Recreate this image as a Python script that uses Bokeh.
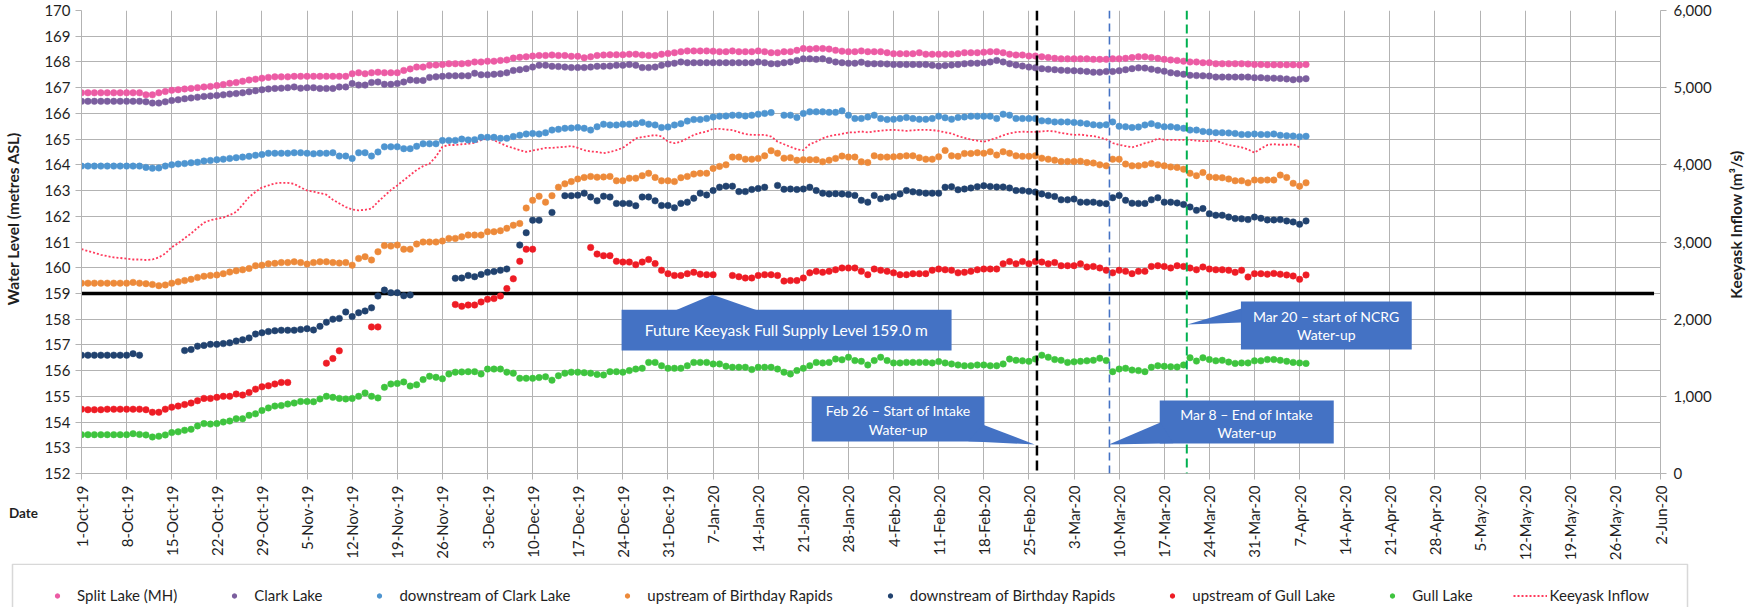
import math
import numpy as np
import pandas as pd
from bokeh.plotting import figure
from bokeh.layouts import row, column
from bokeh.models import (Range1d, LinearAxis, FixedTicker, NumeralTickFormatter, Span, Label,
                          BoxAnnotation, PolyAnnotation, Legend, LegendItem, ColumnDataSource,
                          CustomJSTickFormatter)
from bokeh.embed import file_html
from bokeh.resources import INLINE

NA = float("nan")

start_date = "2019-10-01"

split_lake = [
166.80,166.80,166.80,166.80,166.80,166.80,166.80,166.80,166.80,166.80,
166.72,166.72,166.80,166.85,166.90,166.92,166.95,166.97,167.00,167.03,
167.05,167.08,167.12,167.17,167.20,167.25,167.30,167.33,167.37,167.40,
167.42,167.42,167.42,167.44,167.44,167.44,167.44,167.44,167.44,167.44,
167.44,167.44,167.54,167.58,167.54,167.58,167.60,167.58,167.58,167.58,
167.67,167.73,167.80,167.80,167.87,167.88,167.90,167.93,167.93,167.93,
167.95,168.00,168.00,168.03,168.03,168.06,168.08,168.15,168.18,168.20,
168.23,168.25,168.25,168.27,168.25,168.25,168.22,168.22,168.16,168.20,
168.25,168.27,168.28,168.28,168.28,168.30,168.30,168.27,168.25,168.25,
168.30,168.33,168.36,168.40,168.43,168.43,168.43,168.43,168.42,168.40,
168.40,168.43,168.40,168.40,168.40,168.43,168.40,168.36,168.36,168.40,
168.40,168.45,168.52,168.50,168.52,168.52,168.50,168.45,168.42,168.40,
168.40,168.43,168.40,168.40,168.40,168.36,168.32,168.32,168.32,168.32,
168.36,168.30,168.30,168.30,168.30,168.30,168.32,168.36,168.36,168.36,
168.38,168.40,168.40,168.36,168.30,168.27,168.27,168.23,168.23,168.20,
168.17,168.14,168.12,168.12,168.12,168.12,168.12,168.10,168.10,168.10,
168.12,168.12,168.14,168.17,168.20,168.20,168.17,168.14,168.10,168.08,
168.06,168.03,168.00,168.00,167.97,167.97,167.93,167.93,167.93,167.93,
167.93,167.92,167.90,167.90,167.89,167.89,167.89,167.89,167.89,167.88,167.90]

clark_lake = [
166.47,166.47,166.47,166.47,166.47,166.47,166.47,166.47,166.47,166.47,
166.45,166.40,166.40,166.45,166.50,166.53,166.57,166.60,166.63,166.66,
166.68,166.70,166.72,166.75,166.77,166.80,166.84,166.88,166.92,166.95,
166.97,166.98,167.00,167.03,166.98,167.00,167.00,166.97,166.97,166.97,
167.03,167.03,167.16,167.10,167.10,167.20,167.22,167.13,167.13,167.16,
167.22,167.30,167.28,167.28,167.40,167.42,167.44,167.46,167.46,167.46,
167.46,167.56,167.50,167.50,167.52,167.54,167.58,167.67,167.70,167.74,
167.80,167.87,167.87,167.83,167.82,167.80,167.78,167.78,167.78,167.80,
167.83,167.83,167.84,167.87,167.87,167.90,167.87,167.78,167.78,167.80,
167.87,167.92,167.95,168.00,167.97,167.97,167.97,167.97,167.97,167.97,
167.97,167.97,167.97,167.97,167.97,168.00,167.97,167.93,167.93,167.97,
168.00,168.06,168.12,168.12,168.10,168.12,168.06,168.00,167.97,167.95,
167.95,167.99,167.93,167.93,167.93,167.92,167.90,167.90,167.90,167.90,
167.90,167.90,167.87,167.84,167.86,167.88,167.90,167.93,167.95,167.95,
167.97,168.00,168.06,168.00,167.93,167.88,167.84,167.80,167.77,167.74,
167.72,167.70,167.68,167.67,167.66,167.65,167.63,167.60,167.60,167.63,
167.63,167.66,167.70,167.74,167.77,167.76,167.72,167.68,167.64,167.58,
167.55,167.52,167.48,167.47,167.46,167.45,167.41,167.41,167.41,167.41,
167.41,167.41,167.39,167.39,167.37,167.37,167.36,167.34,167.31,167.33,167.35]

downstream_clark = [
163.95,163.95,163.95,163.95,163.95,163.95,163.95,163.95,163.95,163.95,
163.90,163.87,163.88,163.95,164.00,164.03,164.05,164.08,164.10,164.15,
164.17,164.20,164.22,164.25,164.28,164.30,164.33,164.37,164.40,164.45,
164.45,164.45,164.45,164.47,164.47,164.45,164.43,164.45,164.45,164.47,
164.34,164.34,164.25,164.47,164.47,164.34,164.50,164.70,164.70,164.70,
164.63,164.63,164.72,164.82,164.82,164.82,164.95,164.95,164.95,165.00,
164.97,164.98,165.07,165.07,165.07,165.03,165.03,165.10,165.15,165.20,
165.22,165.20,165.25,165.35,165.38,165.42,165.43,165.45,165.42,165.35,
165.48,165.58,165.55,165.55,165.58,165.58,165.60,165.65,165.58,165.55,
165.45,165.47,165.55,165.60,165.70,165.76,165.76,165.80,165.86,165.89,
165.90,165.93,165.93,165.90,165.93,165.97,166.00,166.03,NA,165.93,
165.93,165.84,166.00,166.06,166.06,166.06,166.04,166.04,166.10,165.93,
165.80,165.80,165.86,165.93,165.80,165.76,165.77,165.80,165.84,165.80,
165.77,165.77,165.80,165.89,165.83,165.77,165.84,165.86,165.89,165.89,
165.89,165.89,165.80,165.97,165.93,165.80,165.80,165.80,165.80,165.71,
165.70,165.67,165.67,165.67,165.65,165.63,165.60,165.56,165.54,165.56,
165.67,165.50,165.48,165.45,165.47,165.55,165.60,165.53,165.48,165.48,
165.45,165.42,165.35,165.35,165.30,165.28,165.25,165.25,165.24,165.22,
165.18,165.18,165.20,165.18,165.18,165.20,165.15,165.13,165.12,165.09,165.11]

upstream_birthday = [
159.40,159.40,159.40,159.40,159.40,159.40,159.40,159.40,159.43,159.40,
159.38,159.35,159.30,159.33,159.40,159.45,159.50,159.55,159.62,159.67,
159.70,159.72,159.77,159.83,159.88,159.92,159.97,160.08,160.10,160.15,
160.17,160.20,160.20,160.23,160.20,160.14,160.20,160.23,160.23,160.20,
160.18,160.20,160.10,160.36,160.43,160.30,160.62,160.86,160.84,160.88,
160.72,160.72,160.92,161.00,161.00,161.00,161.04,161.14,161.14,161.20,
161.27,161.27,161.27,161.40,161.40,161.44,161.53,161.65,161.72,162.32,
162.62,162.78,162.55,162.80,163.13,163.26,163.35,163.45,163.51,163.55,
163.52,163.53,163.55,163.38,163.38,163.48,163.48,163.58,163.67,163.51,
163.38,163.38,163.35,163.50,163.55,163.64,163.67,163.67,163.86,163.94,
164.00,164.30,164.30,164.22,164.22,164.25,164.35,164.55,164.45,164.26,
164.28,164.18,164.20,164.20,164.20,164.12,164.18,164.25,164.34,164.30,
164.30,164.12,164.09,164.35,164.30,164.30,164.31,164.33,164.35,164.35,
164.28,164.22,164.22,164.31,164.56,164.35,164.33,164.44,164.44,164.47,
164.45,164.51,164.38,164.51,164.45,164.35,164.33,164.33,164.35,164.26,
164.22,164.18,164.13,164.13,164.13,164.14,164.09,164.07,164.00,163.96,
164.22,164.22,164.03,163.96,163.96,164.00,164.05,164.00,163.96,163.92,
163.90,163.83,163.67,163.58,163.70,163.53,163.51,163.50,163.45,163.38,
163.38,163.30,163.41,163.40,163.41,163.41,163.60,163.51,163.28,163.17,163.30]

downstream_birthday = [
156.60,156.60,156.60,156.60,156.60,156.60,156.60,156.60,156.66,156.60,
NA,NA,NA,NA,NA,NA,156.78,156.82,156.95,156.98,
157.02,157.02,157.05,157.08,157.15,157.20,157.27,157.42,157.47,157.52,
157.55,157.57,157.57,157.57,157.60,157.63,157.58,157.72,157.88,158.00,
158.03,158.28,158.10,158.25,158.32,158.44,158.90,159.13,159.03,159.03,
158.91,158.94,NA,NA,NA,NA,NA,NA,159.59,159.60,
159.70,159.65,159.74,159.82,159.85,159.90,159.95,NA,160.88,161.36,
161.85,161.85,NA,162.15,NA,162.80,162.80,162.82,162.90,162.75,
162.60,162.78,162.75,162.50,162.50,162.50,162.41,162.75,162.75,162.60,
162.42,162.42,162.33,162.50,162.55,162.70,162.90,162.83,163.00,163.13,
163.17,163.17,162.96,162.96,163.04,163.08,163.13,NA,163.20,163.05,
163.06,163.04,163.06,163.13,163.00,162.90,162.87,162.88,162.87,162.85,
162.81,162.62,162.55,162.81,162.68,162.74,162.77,162.87,163.00,162.95,
162.92,162.90,162.90,162.90,163.13,163.15,163.03,163.06,163.10,163.15,
163.19,163.16,163.14,163.14,163.10,163.00,163.00,162.97,162.94,162.87,
162.81,162.77,162.64,162.64,162.67,162.55,162.55,162.55,162.51,162.49,
162.72,162.81,162.62,162.51,162.50,162.50,162.64,162.72,162.55,162.55,
162.52,162.46,162.36,162.23,162.30,162.10,162.04,162.04,161.97,161.91,
161.90,161.87,161.97,161.92,161.86,161.86,161.87,161.82,161.78,161.69,161.82]

upstream_gull = [
154.50,154.48,154.48,154.48,154.50,154.50,154.50,154.50,154.50,154.50,
154.48,154.38,154.38,154.50,154.58,154.62,154.68,154.74,154.83,154.92,
154.92,154.96,155.00,155.00,155.09,155.05,155.15,155.28,155.37,155.41,
155.48,155.54,155.54,NA,NA,NA,NA,NA,156.29,156.47,
156.77,NA,NA,NA,NA,157.70,157.70,NA,NA,NA,
NA,NA,NA,NA,NA,NA,NA,NA,158.57,158.50,
158.55,158.55,158.67,158.77,158.80,158.90,159.19,159.57,160.25,160.72,
160.72,NA,NA,NA,NA,NA,NA,NA,NA,160.79,
160.53,160.47,160.47,160.25,160.22,160.22,160.12,160.22,160.32,160.16,
159.90,159.77,159.70,159.70,159.77,159.82,159.75,159.73,159.73,NA,
NA,159.70,159.65,159.60,159.60,159.70,159.73,159.73,159.70,159.48,
159.50,159.50,159.60,159.80,159.86,159.82,159.86,159.92,159.99,159.99,
159.99,159.86,159.73,159.95,159.90,159.86,159.80,159.73,159.73,159.77,
159.77,159.77,159.90,159.95,159.92,159.90,159.80,159.82,159.86,159.92,
159.95,159.95,159.95,160.15,160.24,160.15,160.24,160.15,160.24,160.22,
160.15,160.20,160.08,160.08,160.08,160.15,160.03,160.05,159.99,159.90,
159.80,159.90,159.86,159.77,159.86,159.86,160.05,160.08,160.05,159.99,
160.08,160.05,159.99,159.92,160.03,159.95,159.92,159.92,159.90,159.82,
159.90,159.64,159.77,159.77,159.75,159.78,159.75,159.72,159.68,159.55,159.72]

gull_lake = [
153.51,153.51,153.51,153.51,153.51,153.51,153.51,153.51,153.55,153.52,
153.50,153.42,153.45,153.50,153.59,153.62,153.68,153.72,153.85,153.94,
153.92,153.94,154.00,154.04,154.13,154.13,154.26,154.32,154.45,154.55,
154.62,154.64,154.70,154.74,154.80,154.80,154.79,154.90,155.00,154.96,
154.92,154.90,154.92,155.00,155.13,155.00,154.94,155.35,155.48,155.50,
155.56,155.40,155.45,155.65,155.78,155.74,155.68,155.87,155.94,155.95,
155.96,155.96,155.87,156.06,156.06,156.06,155.94,155.90,155.70,155.70,
155.70,155.73,155.76,155.63,155.80,155.90,155.94,155.94,155.92,155.90,
155.85,155.83,155.96,155.96,155.94,156.00,156.06,156.09,156.32,156.32,
156.19,156.09,156.09,156.09,156.19,156.32,156.32,156.32,156.26,156.26,
156.17,156.13,156.13,156.13,156.04,156.13,156.13,156.13,156.06,155.94,
155.87,156.00,156.09,156.19,156.32,156.30,156.32,156.45,156.42,156.52,
156.39,156.36,156.22,156.39,156.52,156.39,156.30,156.30,156.32,156.32,
156.32,156.32,156.30,156.35,156.30,156.26,156.22,156.19,156.19,156.22,
156.22,156.19,156.19,156.26,156.45,156.40,156.38,156.36,156.45,156.60,
156.52,156.43,156.40,156.32,156.34,156.36,156.38,156.40,156.48,156.39,
155.96,156.06,156.09,156.02,156.00,155.96,156.13,156.19,156.17,156.15,
156.14,156.22,156.50,156.37,156.50,156.43,156.38,156.40,156.33,156.28,
156.30,156.30,156.38,156.38,156.43,156.43,156.40,156.36,156.32,156.30,156.28]

keeyask_inflow = [
2907,2883,2860,2833,2817,2800,2793,2783,2773,2773,
2767,2773,2800,2850,2933,2983,3050,3110,3183,3250,
3283,3300,3317,3350,3390,3483,3583,3650,3707,3733,
3760,3767,3767,3753,3707,3667,3653,3633,3613,3547,
3500,3453,3420,3410,3417,3433,3520,3597,3673,3733,
3800,3867,3933,3983,4017,4107,4233,4257,4257,4267,
4273,4287,4320,4343,4320,4280,4243,4217,4190,4167,
4187,4200,4220,4220,4227,4233,4243,4220,4190,4173,
4167,4150,4167,4190,4220,4280,4343,4360,4373,4387,
4367,4300,4280,4300,4343,4387,4413,4433,4467,4467,
4457,4450,4423,4400,4387,4387,4387,4367,4300,4267,
4233,4200,4190,4267,4300,4343,4373,4387,4400,4420,
4420,4433,4420,4433,4443,4450,4453,4447,4440,4447,
4453,4453,4450,4440,4420,4407,4373,4350,4327,4313,
4300,4323,4350,4383,4407,4423,4430,4427,4427,4433,
4440,4433,4413,4400,4387,4393,4380,4373,4353,4330,
4283,4260,4243,4227,4250,4280,4300,4343,4323,4323,
4323,4323,4323,4313,4307,4307,4317,4283,4257,4243,
4227,4200,4157,4210,4257,4267,4260,4260,4267,4227,NA]

fsl_dates = ["2019-10-01", "2020-06-01"]
fsl_level = [159.0, 159.0]

series_names = ["Split Lake (MH)", "Clark Lake", "downstream of Clark Lake",
                "upstream of Birthday Rapids", "downstream of Birthday Rapids",
                "upstream of Gull Lake", "Gull Lake"]
series_colors = ["#ec5ba4", "#7b5e9e", "#4e95d0", "#ed8a3a", "#21426f", "#ee1c25", "#3ec43e"]
inflow_name = "Keeyask Inflow"
inflow_color = "#ff3a5c"

level_ticks = list(range(152, 171))
inflow_ticks = [0, 1000, 2000, 3000, 4000, 5000, 6000]
x_end = "2020-06-02"

event_dates = ["2020-02-26 06:00", "2020-03-08 12:00", "2020-03-20 12:00"]
event_colors = ["#000000", "#4472c4", "#00b050"]

FONT = "Lato"
TXT = "#1f1f1f"
GRID = "#b3b3b3"
CALLOUT = "#4472c4"

# ---- layout sizes (px) ----
H_MAIN = 555
W_LEFT, W_RIGHT = 41, 34
BL, BR, BT, BB = 39, 49, 10, 82
FW, FH = 1579, 463
W_TOTAL = W_LEFT + BL + FW + BR + W_RIGHT
H_LEG = 44

t0 = pd.Timestamp(start_date)
dates = pd.date_range(start_date, periods=len(split_lake), freq="D")


def ms(day):
    return (t0 + pd.Timedelta(days=day)).value / 1e6


src = ColumnDataSource(dict(
    date=dates,
    s0=np.array(split_lake, dtype=float),
    s1=np.array(clark_lake, dtype=float),
    s2=np.array(downstream_clark, dtype=float),
    s3=np.array(upstream_birthday, dtype=float),
    s4=np.array(downstream_birthday, dtype=float),
    s5=np.array(upstream_gull, dtype=float),
    s6=np.array(gull_lake, dtype=float),
    q=np.array(keeyask_inflow, dtype=float),
))

p = figure(frame_width=FW, frame_height=FH, x_axis_type="datetime",
           x_range=Range1d(t0, pd.Timestamp(x_end)), y_range=Range1d(152, 170),
           output_backend="svg", toolbar_location=None,
           min_border_left=BL, min_border_right=BR, min_border_top=BT, min_border_bottom=BB,
           background_fill_color="white", border_fill_color="white")
p.outline_line_color = None
p.extra_y_ranges = {"inflow": Range1d(0, 6000)}

p.xgrid.grid_line_color = GRID
p.ygrid.grid_line_color = GRID

xt = FixedTicker(ticks=[d.value / 1e6 for d in pd.date_range(start_date, x_end, freq="7D")])
p.xaxis.ticker = xt
p.xaxis.formatter = CustomJSTickFormatter(code="""
const d = new Date(tick);
const m = ["Jan","Feb","Mar","Apr","May","Jun","Jul","Aug","Sep","Oct","Nov","Dec"][d.getUTCMonth()];
return d.getUTCDate() + "-" + m + "-" + String(d.getUTCFullYear()).slice(2);
""")
p.xaxis.major_label_orientation = math.pi / 2
p.xgrid.ticker = xt
p.yaxis.ticker = FixedTicker(ticks=level_ticks)

right = LinearAxis(y_range_name="inflow", ticker=FixedTicker(ticks=inflow_ticks),
                   formatter=NumeralTickFormatter(format="0,0"))
p.add_layout(right, "right")

for ax in [p.xaxis[0], p.yaxis[0], right]:
    ax.axis_line_color = GRID
    ax.major_tick_line_color = GRID
    ax.major_tick_in = 0
    ax.major_tick_out = 6
    ax.minor_tick_line_color = None
    ax.major_label_text_font = FONT
    ax.major_label_text_font_size = "15px"
    ax.major_label_text_color = TXT
p.yaxis[0].major_label_standoff = 5
right.major_label_standoff = 7
p.xaxis[0].major_label_standoff = 6

# data
p.line("date", "q", source=src, y_range_name="inflow", line_color=inflow_color,
       line_width=1.8, line_dash="2 2")
p.line(pd.to_datetime(fsl_dates), fsl_level, line_color="black", line_width=3.5)
for i, col in enumerate(series_colors):
    p.scatter("date", f"s{i}", source=src, size=6.5, fill_color=col, line_color=col, line_width=0.5)

for d, c, w, dash in zip(event_dates, event_colors, [2.5, 1.6, 2.0], ["10 5", "8 5", "9 5"]):
    p.add_layout(Span(location=pd.Timestamp(d).value / 1e6, dimension="height",
                      line_color=c, line_width=w, line_dash=dash))


def callout(box, tri, lines, size):
    l, r, t, b = box
    p.add_layout(BoxAnnotation(left=ms(l), right=ms(r), top=t, bottom=b,
                               fill_color=CALLOUT, fill_alpha=1.0, line_color=None))
    p.add_layout(PolyAnnotation(xs=[ms(x) for x, _ in tri], ys=[y for _, y in tri],
                                fill_color=CALLOUT, fill_alpha=1.0, line_color=None))
    for (tx, ty, text) in lines:
        p.add_layout(Label(x=ms(tx), y=ty, text=text, text_color="white", text_font=FONT,
                           text_font_size=size, text_align="center", text_baseline="middle"))


callout((83.8, 135.0, 158.37, 156.78),
        [(92.3, 158.36), (97.9, 158.95), (104.7, 158.36)],
        [(109.4, 157.58, "Future Keeyask Full Supply Level 159.0 m")], "15.6px")
callout((113.3, 140.1, 154.99, 153.24),
        [(139.9, 153.9), (147.9, 153.13), (137.6, 153.25)],
        [(126.7, 154.43, "Feb 26 – Start of Intake"), (126.7, 153.72, "Water-up")], "14px")
callout((167.3, 194.3, 154.84, 153.17),
        [(167.4, 153.98), (159.4, 153.13), (169.4, 153.18)],
        [(180.8, 154.29, "Mar 8 – End of Intake"), (180.8, 153.59, "Water-up")], "14px")
callout((179.9, 206.4, 158.69, 156.82),
        [(180.0, 158.41), (171.6, 157.79), (180.0, 157.87)],
        [(193.15, 158.1, "Mar 20 – start of NCRG"), (193.15, 157.4, "Water-up")], "14px")


def side_fig(w, h):
    f = figure(frame_width=w, frame_height=h, x_range=Range1d(0, w), y_range=Range1d(0, h),
               x_axis_location=None, y_axis_location=None, output_backend="svg",
               toolbar_location=None, min_border=0, min_border_left=0, min_border_right=0,
               min_border_top=0, min_border_bottom=0,
               background_fill_color="white", border_fill_color="white")
    f.grid.visible = False
    f.outline_line_color = None
    return f


# left strip: y-axis title and "Date" (coords in px within the strip, y up)
left = side_fig(W_LEFT, H_MAIN)
left.add_layout(Label(x=12, y=H_MAIN - 208, text="Water Level (metres ASL)", angle=math.pi / 2,
                      text_font=FONT, text_font_size="15.5px", text_font_style="bold",
                      text_color=TXT, text_align="center", text_baseline="middle"))
left.add_layout(Label(x=23, y=H_MAIN - 502, text="Date", text_font=FONT, text_font_size="13.5px",
                      text_font_style="bold", text_color=TXT, text_align="center",
                      text_baseline="middle"))

rightf = side_fig(W_RIGHT, H_MAIN)
rightf.add_layout(Label(x=21, y=H_MAIN - 214, text="Keeyask Inflow (m³/s)", angle=math.pi / 2,
                        text_font=FONT, text_font_size="15.5px", text_font_style="bold",
                        text_color=TXT, text_align="center", text_baseline="middle"))

# legend strip (dummy renderers carry the legend glyph styles; their points lie off-canvas)
leg = side_fig(W_TOTAL, H_LEG)
items = []
for name, col in zip(series_names, series_colors):
    r = leg.scatter(x=[-500], y=[-500], size=5, fill_color=col, line_color=col)
    items.append(LegendItem(label=name, renderers=[r]))
r = leg.line(x=[-500, -400], y=[-500, -500], line_color=inflow_color, line_width=1.8,
             line_dash="2 2")
items.append(LegendItem(label=inflow_name, renderers=[r]))
leg.add_layout(BoxAnnotation(left=12, right=1687, top=H_LEG - 0.8, bottom=-10,
                             fill_alpha=0, line_color="#7f7f7f", line_width=1.5))
legend = Legend(items=items, location=(40, 2), orientation="horizontal",
                glyph_width=34, glyph_height=11, label_height=20, label_standoff=3, spacing=40,
                padding=10, margin=0, label_text_font=FONT, label_text_font_size="15px",
                label_text_color=TXT, border_line_color=None, background_fill_alpha=0)
leg.add_layout(legend, "center")

layout = column(row(left, p, rightf, spacing=0), leg, spacing=0)

open("out.html", "w").write(file_html(layout, INLINE))
